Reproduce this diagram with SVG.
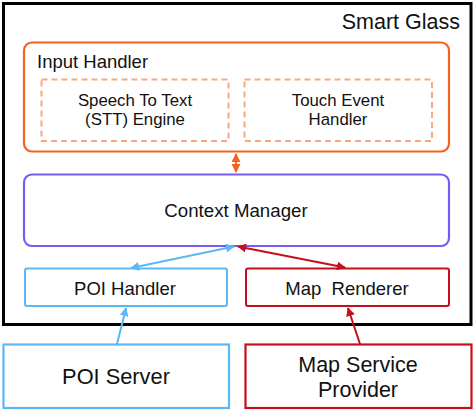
<svg xmlns="http://www.w3.org/2000/svg" width="475" height="412" viewBox="0 0 475 412">
<defs>
<style>
text{font-family:"Liberation Sans",Arial,sans-serif;fill:#111;text-anchor:middle}
.orange{stroke:#f5621f}
.blue{stroke:#5cb8f5}
.red{stroke:#c3101c}
.purple{stroke:#7a5af3}
</style>
<marker id="ao" viewBox="0 0 10 10" refX="9" refY="5" markerWidth="4.5" markerHeight="4.5" orient="auto-start-reverse"><path d="M0,0L10,5L0,10z" fill="#f5621f"/></marker>
<marker id="ab" viewBox="0 0 10 10" refX="9" refY="5" markerWidth="4.5" markerHeight="4.5" orient="auto-start-reverse"><path d="M0,0L10,5L0,10z" fill="#5cb8f5"/></marker>
<marker id="ar" viewBox="0 0 10 10" refX="9" refY="5" markerWidth="4.5" markerHeight="4.5" orient="auto-start-reverse"><path d="M0,0L10,5L0,10z" fill="#c3101c"/></marker>
</defs>
<rect width="475" height="412" fill="#fff"/>
<g id="smart-glass">
<rect x="3.5" y="3.5" width="467.5" height="321" fill="none" stroke="#000" stroke-width="3"/>
<text x="460" y="29" font-size="21.5" style="text-anchor:end">Smart Glass</text>
</g>
<g id="input-handler">
<rect x="24" y="42.5" width="425" height="109" rx="8" fill="none" class="orange" stroke-width="2.2"/>
<text x="37" y="68" font-size="18.5" style="text-anchor:start">Input Handler</text>
</g>
<g id="stt-engine">
<rect x="41.5" y="79.5" width="187" height="61.5" fill="none" stroke="#f9a683" stroke-width="2" stroke-dasharray="6,4"/>
<text x="135" y="106" font-size="16.8">Speech To Text</text>
<text x="135" y="125" font-size="16.8">(STT) Engine</text>
</g>
<g id="touch-handler">
<rect x="244.5" y="79.5" width="187.5" height="61.5" fill="none" stroke="#f9a683" stroke-width="2" stroke-dasharray="6,4"/>
<text x="338" y="106" font-size="16.8">Touch Event</text>
<text x="338" y="125" font-size="16.8">Handler</text>
</g>
<g id="context-manager">
<rect x="24" y="174.5" width="425" height="71.5" rx="8" fill="none" class="purple" stroke-width="2.2"/>
<text x="236" y="217" font-size="18.7">Context Manager</text>
</g>
<g id="poi-handler">
<rect x="25" y="268.5" width="202" height="37.5" rx="2" fill="none" class="blue" stroke-width="2"/>
<text x="125" y="295" font-size="18.5">POI Handler</text>
</g>
<g id="map-renderer">
<rect x="246" y="268.5" width="203" height="37.5" rx="2" fill="none" class="red" stroke-width="2"/>
<text x="347" y="295" font-size="18.5" xml:space="preserve">Map  Renderer</text>
</g>
<g id="poi-server">
<rect x="3.5" y="344.5" width="225.5" height="63.5" fill="none" class="blue" stroke-width="2.2"/>
<text x="116" y="384" font-size="21.8">POI Server</text>
</g>
<g id="map-service-provider">
<rect x="245.5" y="344.5" width="226" height="63.5" fill="none" class="red" stroke-width="2.2"/>
<text x="358" y="372" font-size="21.5">Map Service</text>
<text x="358" y="397" font-size="21.5">Provider</text>
</g>
<g id="connectors" fill="none" stroke-width="2">
<line x1="236" y1="154" x2="236" y2="172" class="orange" marker-start="url(#ao)" marker-end="url(#ao)"/>
<line x1="234" y1="246.5" x2="131" y2="268" class="blue" marker-start="url(#ab)" marker-end="url(#ab)"/>
<line x1="238" y1="246.5" x2="345" y2="267.5" class="red" marker-start="url(#ar)" marker-end="url(#ar)"/>
<line x1="117" y1="344" x2="126" y2="308" class="blue" marker-end="url(#ab)"/>
<line x1="360" y1="344" x2="348" y2="308" class="red" marker-end="url(#ar)"/>
</g>
</svg>
